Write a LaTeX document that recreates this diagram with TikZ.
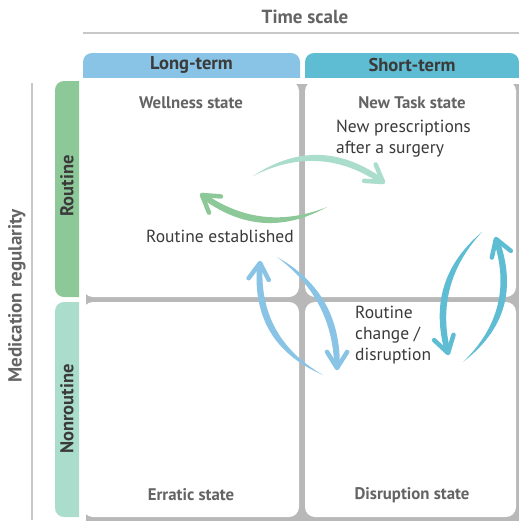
\documentclass[tikz,border=0pt]{standalone}
\usepackage{fontspec}
\setmainfont{PT Sans}
\usetikzlibrary{calc}
\definecolor{ltblue}{HTML}{89C3E5}
\definecolor{teal2}{HTML}{5EBCD3}
\definecolor{green2}{HTML}{8DC898}
\definecolor{mint}{HTML}{AADDCC}
\definecolor{txtgray}{HTML}{646464}
\definecolor{txtdark}{HTML}{3A3A3A}
\definecolor{rulegray}{HTML}{C8C8C8}
\definecolor{shadowgray}{HTML}{B8B8B8}
\tikzset{
  box/.style={fill=white, rounded corners=10},
  tabtext/.style={font=\fontsize{18.5}{20}\selectfont\bfseries, text=txtdark},
  statetext/.style={font=\fontsize{16.8}{18}\selectfont\bfseries, text=txtgray},
  bodytext/.style={font=\fontsize{17.5}{21}\selectfont, text=txtdark, align=left, inner sep=0pt},
  axistext/.style={font=\fontsize{19}{20}\selectfont\bfseries, text=txtgray},
  barb/.style={line width=4.5, line cap=round, line join=round},
}
% crescent arrow: #1 tail, #2 head, #3 bulge (pt, positive = left of tail->head), #4 colour
\newcommand{\crescentarrow}[4]{%
  \path #1 coordinate (ct) #2 coordinate (ch);
  \coordinate (p1) at ($(ct)!1/3!(ch)$);
  \coordinate (p2) at ($(ct)!2/3!(ch)$);
  \coordinate (a1) at ($(p1)!{(#3+3.5)*1pt}!90:(ch)$);
  \coordinate (a2) at ($(p2)!{(#3+4)*1pt}!90:(ch)$);
  \coordinate (b1) at ($(p1)!{(#3-3.5)*1pt}!90:(ch)$);
  \coordinate (b2) at ($(p2)!{(#3-4)*1pt}!90:(ch)$);
  \coordinate (m2) at ($(p2)!{(#3)*1pt}!90:(ch)$);
  \coordinate (a3) at ($(ch)!2.8pt!-90:(m2)$);
  \coordinate (b3) at ($(ch)!2.8pt!90:(m2)$);
  \fill[#4] (ct) .. controls (a1) and (a2) .. (a3) -- (b3) .. controls (b2) and (b1) .. (ct) -- cycle;
  \draw[#4, barb] ($(ch)!19pt!32:(m2)$) -- (ch) -- ($(ch)!19pt!-32:(m2)$);
}
\begin{document}
\begin{tikzpicture}[x=1pt,y=-1pt]
\useasboundingbox (0,0) rectangle (519,523);

% shadows
\fill[shadowgray] (86,84) rectangle (519,521);
\fill[white] (79,81) rectangle (86,523);
\fill[white] (79,521) rectangle (519,523);

% boxes
\fill[box] (83,81) rectangle (299,297);
\fill[box] (305,81) rectangle (516,297);
\fill[box] (83,302) rectangle (299,517);
\fill[box] (305,302) rectangle (516,517);

% axis title and rules
\node[axistext] (timescale) at (305,17) {Time scale};
\coordinate (tl1) at (83,33);
\coordinate (tl2) at (519,33);
\draw[rulegray, line width=1.2] (tl1) -- (tl2);
\coordinate (vl1) at (32,83);
\coordinate (vl2) at (32,520);
\draw[rulegray, line width=1.2] (vl1) -- (vl2);
\node[axistext, rotate=90] (medreg) at (17,296) {Medication regularity};

% tabs
\begin{scope}
\clip (0,0) rectangle (519,77);
\fill[ltblue, rounded corners=9] (83,53) rectangle (300,95);
\fill[teal2, rounded corners=9] (305,53) rectangle (519,95);
\end{scope}
\node[tabtext] (longterm) at (191.5,65) {Long-term};
\node[tabtext] (shortterm) at (412,65) {Short-term};

% side bars
\begin{scope}
\clip (0,0) rectangle (79,523);
\fill[green2, rounded corners=9] (55,81) rectangle (95,297);
\fill[mint, rounded corners=9] (55,302) rectangle (95,517);
\end{scope}
\node[tabtext, rotate=90] (routine) at (67,186) {Routine};
\node[tabtext, rotate=90] (nonroutine) at (67,409) {Nonroutine};

% state labels
\node[statetext] (wellness) at (191,103) {Wellness state};
\node[statetext] (newtask) at (412,103) {New Task state};
\node[statetext] (erratic) at (191,495) {Erratic state};
\node[statetext] (disruption) at (412,495) {Disruption state};

% body texts
\node[bodytext, anchor=north west] (newpresc) at (336,120) {New prescriptions\\after a surgery};
\node[bodytext] (established) at (220,236) {Routine established};
\node[bodytext, anchor=north west] (change) at (355,306) {Routine\\change /\\disruption};

% arrows
\crescentarrow{(253,176)}{(383,182)}{28}{mint}
\crescentarrow{(327,207)}{(202,195)}{25}{green2}
\crescentarrow{(323,375)}{(260,263)}{29}{ltblue}
\crescentarrow{(277,257)}{(337,368)}{23}{ltblue}
\crescentarrow{(482,232)}{(448,353)}{-25}{teal2}
\crescentarrow{(463,362)}{(496,239)}{-29}{teal2}
\end{tikzpicture}
\end{document}
